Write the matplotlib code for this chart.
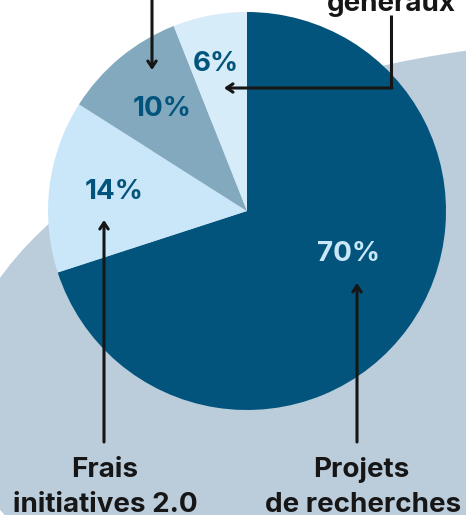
import matplotlib
matplotlib.use("Agg")
import matplotlib.pyplot as plt
from matplotlib.patches import Ellipse

# data
shares = [70, 14, 10, 6]
pct_labels = ["70%", "14%", "10%", "6%"]
slice_colors = ["#02547D", "#C9E7F8", "#82A9BE", "#D6ECF8"]
label_colors = ["#C9E7F8", "#02547D", "#02547D", "#02547D"]
cat_labels = ["Projets\nde recherches", "Frais\ninitiatives 2.0", "", "généraux"]

W, H = 466, 515
fig = plt.figure(figsize=(W/100, H/100), dpi=100)
ax = fig.add_axes([0, 0, 1, 1])

LABEL_FONT = "Inter"
PCT_FONT = "Inter"
INK = "#161616"

# background blob
ax.add_patch(Ellipse((510, 169.5), 1113, 596, angle=7.6, color="#BBCCDB", zorder=0, lw=0))

# pie
cx, cy, r = 247, 304, 199
wedges, _ = ax.pie(shares, colors=slice_colors, startangle=90, counterclock=False,
                   center=(cx, cy), radius=r, frame=True,
                   wedgeprops=dict(linewidth=0))
ax.set_xlim(0, W)
ax.set_ylim(0, H)
ax.set_aspect('equal')
ax.axis('off')

# percentage labels
pct_pos = [(349, 261), (114, 323), (162, 406), (216, 451)]
for (px, py), t, c in zip(pct_pos, pct_labels, label_colors):
    ax.text(px, py, t, ha='center', va='center', color=c, fontsize=20,
            fontweight='bold', family=PCT_FONT, zorder=5)

# arrows
arrow_kw = dict(arrowstyle='->,head_length=0.45,head_width=0.3', color=INK, lw=2.2,
                shrinkA=0, shrinkB=0)
ax.annotate("", xy=(357, 232), xytext=(357, 73), arrowprops=arrow_kw, zorder=6)
ax.annotate("", xy=(104, 295), xytext=(104, 73), arrowprops=arrow_kw, zorder=6)
ax.annotate("", xy=(152, 445), xytext=(152, 520), arrowprops=arrow_kw, zorder=6)
ax.plot([391, 391], [500, 427], color=INK, lw=2.2, solid_capstyle='butt', zorder=6)
ax.annotate("", xy=(224, 427), xytext=(392, 427), arrowprops=arrow_kw, zorder=6)

# category labels
lab_kw = dict(ha='center', va='baseline', fontsize=20, fontweight='bold',
              family=LABEL_FONT, color=INK, zorder=7)
ax.text(361, 38, "Projets", **lab_kw)
ax.text(363, 3, "de recherches", **lab_kw)
ax.text(105, 38, "Frais", **lab_kw)
ax.text(105, 3, "initiatives 2.0", **lab_kw)
ax.text(391, 504, cat_labels[3], **lab_kw)

fig.savefig("out.png", dpi=100)
